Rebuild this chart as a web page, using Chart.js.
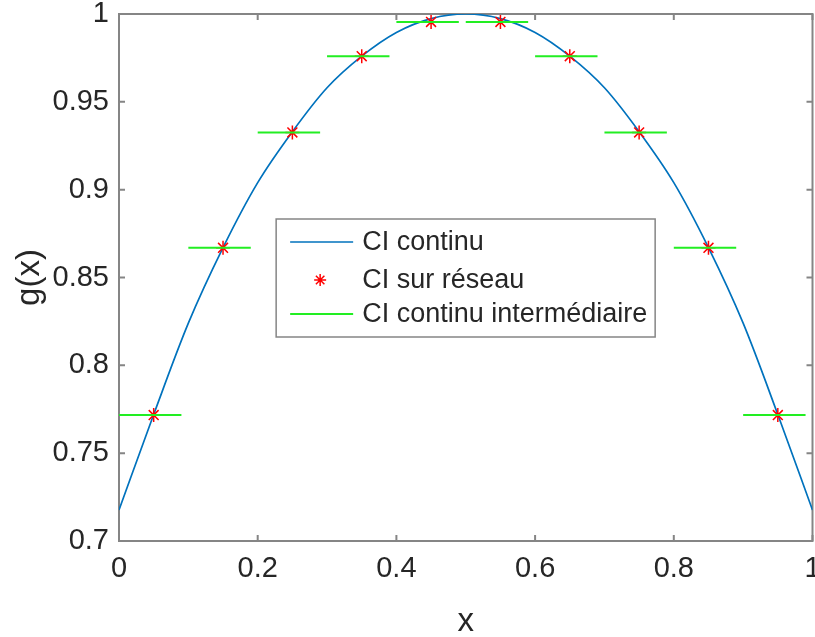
<!DOCTYPE html>
<html>
<head>
<meta charset="utf-8">
<script src="https://cdn.jsdelivr.net/npm/chart.js@4/dist/chart.umd.min.js"></script>
<style>
  html, body { margin: 0; padding: 0; background: #fff; overflow: hidden; }
  #wrap { width: 815px; height: 637px; position: relative; overflow: hidden; }
  #c { display: block; }
</style>
</head>
<body>
<div id="wrap"><canvas id="c" width="821" height="637"></canvas></div>
<script>
// Continuous initial condition g(x), sampled every 0.05
const curveX = [0, 0.05, 0.1, 0.15, 0.2, 0.25, 0.3, 0.35, 0.4, 0.45, 0.5,
                0.55, 0.6, 0.65, 0.7, 0.75, 0.8, 0.85, 0.9, 0.95, 1];
const curveY = [0.7176, 0.772, 0.824, 0.867, 0.904, 0.933, 0.958, 0.976, 0.9895, 0.9974, 1,
                0.9974, 0.9895, 0.976, 0.958, 0.933, 0.904, 0.867, 0.824, 0.772, 0.7176];

// Lattice initial condition (cell centres)
const latticeX = [0.05, 0.15, 0.25, 0.35, 0.45, 0.55, 0.65, 0.75, 0.85, 0.95];
const latticeY = [0.7717, 0.8669, 0.9326, 0.976, 0.9955, 0.9955, 0.976, 0.9326, 0.8669, 0.7717];

// Intermediate piecewise-constant condition: one flat step per cell
const stepStart = [0, 0.1, 0.2, 0.3, 0.4, 0.5, 0.6, 0.7, 0.8, 0.9];
const stepEnd   = [0.09, 0.19, 0.29, 0.39, 0.49, 0.59, 0.69, 0.79, 0.89, 0.99];

// Axis ticks
const xTicks = [0, 0.2, 0.4, 0.6, 0.8, 1];
const yTicks = [0.7, 0.75, 0.8, 0.85, 0.9, 0.95, 1];

const seriesNames = ['CI continu', 'CI sur réseau', 'CI continu intermédiaire'];

const FONT = "'Liberation Sans', Arial, Helvetica, sans-serif";
const TEXT = '#262626';
const AXIS = '#858585';

const curvePts = curveX.map((x, i) => ({ x, y: curveY[i] }));
const latticePts = latticeX.map((x, i) => ({ x, y: latticeY[i] }));
const stepPts = [];
stepStart.forEach((s, i) => {
  stepPts.push({ x: s, y: latticeY[i] });
  stepPts.push({ x: stepEnd[i], y: latticeY[i] });
  if (i < stepStart.length - 1) stepPts.push({ x: (stepEnd[i] + stepStart[i + 1]) / 2, y: null });
});

// Box around the axes with inward tick marks on all four sides
const framePlugin = {
  id: 'frame',
  beforeDatasetsDraw(chart) {
    const { ctx, chartArea: a, scales } = chart;
    ctx.save();
    ctx.strokeStyle = AXIS;
    ctx.lineWidth = 2;
    ctx.strokeRect(a.left, a.top, a.right - a.left, a.bottom - a.top);
    const tl = 6;
    ctx.beginPath();
    scales.x.ticks.forEach(t => {
      const px = scales.x.getPixelForValue(t.value);
      ctx.moveTo(px, a.bottom); ctx.lineTo(px, a.bottom - tl);
      ctx.moveTo(px, a.top); ctx.lineTo(px, a.top + tl);
    });
    scales.y.ticks.forEach(t => {
      const py = scales.y.getPixelForValue(t.value);
      ctx.moveTo(a.left, py); ctx.lineTo(a.left + tl, py);
      ctx.moveTo(a.right, py); ctx.lineTo(a.right - tl, py);
    });
    ctx.stroke();
    ctx.restore();
  }
};

// Legend box drawn inside the plotting area
const boxLegendPlugin = {
  id: 'boxLegend',
  afterDraw(chart) {
    const { ctx, chartArea: a } = chart;
    const w = a.right - a.left, h = a.bottom - a.top;
    const bx = a.left + 0.2266 * w, by = a.top + 0.389 * h;
    const bw = 379, bh = 118;
    ctx.save();
    ctx.fillStyle = '#fff';
    ctx.fillRect(bx, by, bw, bh);
    ctx.strokeStyle = AXIS;
    ctx.lineWidth = 1.5;
    ctx.strokeRect(bx, by, bw, bh);
    const rows = [by + 23, by + 61, by + 95];
    const ds = chart.data.datasets;
    ctx.font = '27px ' + FONT;
    ctx.textBaseline = 'middle';
    ds.forEach((d, i) => {
      const y = rows[i];
      if (d.showLine === false) {
        const cx = bx + 44, r = d.pointRadius - 1;
        ctx.strokeStyle = d.pointBorderColor;
        ctx.lineWidth = d.pointBorderWidth;
        ctx.beginPath();
        ctx.moveTo(cx, y - r); ctx.lineTo(cx, y + r);
        ctx.moveTo(cx - r, y); ctx.lineTo(cx + r, y);
        const q = r * Math.SQRT1_2;
        ctx.moveTo(cx - q, y - q); ctx.lineTo(cx + q, y + q);
        ctx.moveTo(cx - q, y + q); ctx.lineTo(cx + q, y - q);
        ctx.stroke();
      } else {
        ctx.strokeStyle = d.borderColor;
        ctx.lineWidth = d.borderWidth;
        ctx.beginPath();
        ctx.moveTo(bx + 14, y); ctx.lineTo(bx + 77, y);
        ctx.stroke();
      }
      ctx.fillStyle = TEXT;
      ctx.fillText(d.label, bx + 86, y + 1);
    });
    ctx.restore();
  }
};

new Chart(document.getElementById('c'), {
  type: 'scatter',
  data: {
    datasets: [
      {
        label: seriesNames[0],
        data: curvePts,
        showLine: true,
        borderColor: '#0072BD',
        borderWidth: 1.7,
        pointRadius: 0,
        cubicInterpolationMode: 'monotone',
        order: 2
      },
      {
        label: seriesNames[1],
        data: latticePts,
        showLine: false,
        pointStyle: 'star',
        pointRadius: 7,
        pointBorderColor: '#ff0000',
        pointBackgroundColor: '#ff0000',
        pointBorderWidth: 1.5,
        order: 1
      },
      {
        label: seriesNames[2],
        data: stepPts,
        showLine: true,
        spanGaps: false,
        borderColor: '#22ee22',
        borderWidth: 2,
        pointRadius: 0,
        order: 0
      }
    ]
  },
  options: {
    responsive: false,
    animation: false,
    devicePixelRatio: 1,
    layout: { padding: { top: 14, right: 0, left: 0, bottom: 0 } },
    plugins: {
      legend: { display: false },
      tooltip: { enabled: false }
    },
    scales: {
      x: {
        type: 'linear',
        min: 0, max: 1,
        grid: { display: false, drawTicks: false },
        border: { display: false },
        afterBuildTicks(s) { s.ticks = xTicks.map(v => ({ value: v })); },
        afterFit(s) { s.height = 96; s.paddingLeft = 0; s.paddingRight = 0; },
        ticks: {
          color: TEXT,
          font: { family: FONT, size: 29 },
          padding: 11,
          maxRotation: 0,
          callback: v => String(v)
        },
        title: {
          display: true,
          text: 'x',
          color: TEXT,
          font: { family: FONT, size: 33 },
          padding: { top: 0, bottom: -5 }
        }
      },
      y: {
        type: 'linear',
        min: 0.7, max: 1,
        grid: { display: false, drawTicks: false },
        border: { display: false },
        afterBuildTicks(s) { s.ticks = yTicks.map(v => ({ value: v })); },
        afterFit(s) { s.width = 119; s.paddingTop = 0; s.paddingBottom = 0; },
        ticks: {
          color: TEXT,
          font: { family: FONT, size: 29 },
          padding: 10,
          callback: v => String(v)
        },
        title: {
          display: true,
          text: 'g(x)',
          color: TEXT,
          font: { family: FONT, size: 33 },
          padding: { top: 10, bottom: 4 }
        }
      }
    }
  },
  plugins: [framePlugin, boxLegendPlugin]
});
</script>
</body>
</html>
